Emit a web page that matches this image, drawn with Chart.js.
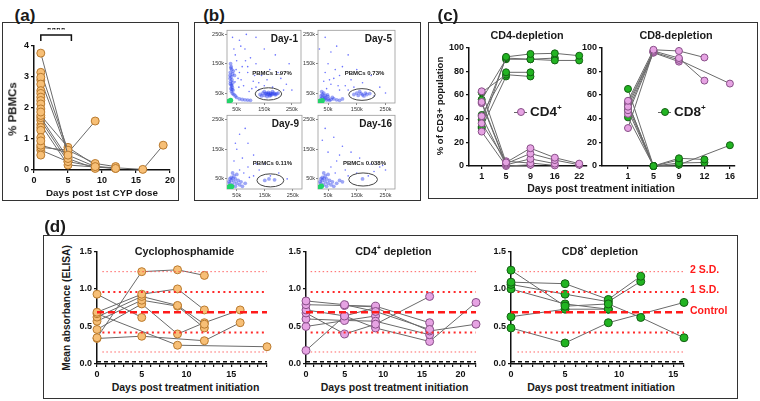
<!DOCTYPE html>
<html>
<head>
<meta charset="utf-8">
<script src="https://cdn.jsdelivr.net/npm/chart.js@4.4.0/dist/chart.umd.min.js"></script>
<style>
  body { margin:0; width:760px; height:401px; background:#fff; position:relative; overflow:hidden;
         font-family:"Liberation Sans", Arial, sans-serif; font-weight:bold; color:#1a1a1a; }
  .box { position:absolute; border:1.5px solid #333; box-sizing:border-box; }
  canvas { position:absolute; }
  .t { position:absolute; white-space:nowrap; line-height:1; }
  sup { font-size:60%; vertical-align:top; position:relative; top:-0.1em; }
</style>
</head>
<body>
<div class="box" style="left:2px;top:22px;width:177px;height:179px"></div>
<div class="box" style="left:194px;top:22px;width:227px;height:179px"></div>
<div class="box" style="left:428px;top:22px;width:330px;height:177px"></div>
<div class="box" style="left:43px;top:235px;width:695px;height:164px"></div>
<script>
// ---------- (a) % PBMCs after CYP ----------
const aLinked = [
  [[1,3.77],[5,0.48],[9,0.11],[12,0.05]],
  [[1,3.15],[5,0.64],[9,0.21],[12,0.11]],
  [[1,2.9],[5,0.55],[9,1.58]],
  [[1,1.76],[5,0.73],[9,0.16]],
  [[1,1.69],[5,0.37],[9,0.05]],
  [[1,1.6],[5,0.27],[9,0.11],[16,0.02],[19,0.8]],
  [[1,1.47],[5,0.16],[12,0.05]],
  [[1,0.8],[5,0.55]],
  [[1,0.73],[5,0.64]],
  [[1,0.64],[5,0.27]]
];
const aDay1Only = [2.99, 2.77, 2.56, 2.47, 2.35, 2.24, 2.13, 1.97, 1.87, 1.37, 1.28, 1.05, 0.94, 0.48];
const aSig = { from: 1, to: 5.5, label: "****" };

// ---------- (b) flow plots (values in k) ----------
const flowTitles = ["Day-1", "Day-5", "Day-9", "Day-16"];
const flowPct = ["PBMCs 1.97%", "PBMCs 0.73%", "PBMCs 0.11%", "PBMCs 0.038%"];
const flowGates = [[165,47,48,21],[168,45,46,20],[170,45,48,22],[172,48,50,22]];
const flowSparse = [
  [[60,230],[80,200],[45,180],[100,170],[70,140],[120,150],[90,120],[140,110],[55,100],[110,90],[160,95],[200,120],[230,80],[180,70],[75,75],[130,60],[95,55],[250,60],[210,100],[65,210],[35,240],[150,200],[190,180],[240,150],[85,250],[120,240],[50,160],[170,130],[60,120],[105,65],[130,85],[90,140],[220,60],[115,110],[40,200],[48,130],[66,95],[82,160],[150,75],[120,70],[58,70],[44,88]],
  [[40,240],[80,210],[60,190],[120,180],[50,150],[100,140],[150,130],[90,110],[40,120],[70,100],[130,95],[200,110],[60,80],[110,75],[170,85],[230,70],[45,65],[90,60],[250,50],[20,200],[75,130],[140,70],[210,40],[55,95],[35,90],[120,60],[85,75]],
  [[60,200],[90,170],[50,150],[70,120],[110,130],[40,110],[90,90],[130,80],[150,100],[200,70],[60,80],[170,60],[230,50],[110,60],[80,220],[45,170],[120,100],[75,70],[95,55]],
  [[40,220],[70,190],[100,160],[50,140],[130,140],[80,110],[160,120],[200,100],[230,90],[250,80],[110,80],[60,90],[150,70],[190,60],[210,75],[30,180],[90,130],[240,95],[120,60],[75,70]]
];
const flowDense = [
  [[28,150],[30,140],[32,130],[27,120],[35,115],[30,105],[33,95],[28,90],[36,85],[30,78],[34,70],[29,65],[37,60],[31,55],[35,48],[40,45],[45,40],[50,35],[60,30],[70,28],[80,27],[90,26],[100,25],[42,110],[38,125],[26,100],[32,75],[29,135],[26,110],[33,62],[27,82],
   [135,45],[145,50],[150,42],[155,48],[160,45],[165,52],[170,44],[175,48],[180,46],[185,50],[190,44],[195,47],[160,38],[170,40],[150,55],[180,55],[200,50],[140,40],[165,47],[175,43],[158,50],[172,50],[188,47]],
  [[25,30],[30,35],[35,28],[40,32],[45,26],[50,30],[55,25],[60,28],[70,30],[80,27],[90,25],[30,45],[35,50],[28,55],[40,42],[50,38],[65,35],[100,30],[26,40],[38,36],[48,44],
   [140,45],[150,50],[155,42],[165,48],[170,44],[180,50],[185,45],[160,55],[175,40],[195,48]],
  [[20,25],[25,35],[30,45],[35,30],[40,40],[45,25],[50,35],[55,45],[30,55],[40,60],[60,30],[65,40],[70,25],[25,50],[45,50],[35,70],[50,65],[80,35],[22,40],[36,52],
   [150,45],[165,50],[185,47]],
  [[20,25],[25,35],[30,45],[35,30],[40,40],[45,25],[50,35],[55,45],[30,55],[40,60],[60,30],[65,40],[70,25],[25,50],[45,50],[35,70],[50,65],[80,35],[90,45],[100,40],[22,40],[36,52],
   [170,50]]
];
const flowCore = [[[22,22],[28,25]],[[22,22],[30,24]],[[22,22],[27,26],[32,24]],[[22,22],[27,26]]];
const flowTicks = [50, 150, 250];

// ---------- (c) CD3+ composition ----------
const cd4DepDays = ["1","5","9","16","22"];
const cd4Dep_CD4 = [
  [63, 3, 15, 7, 2],
  [54, 2, 10.5, 5, 1],
  [42, 1, 6, 2, null],
  [36, 4, 2.5, 0.5, null],
  [29, 0, 1, null, null],
  [53, 1, null, null, null]
];
const cd4Dep_CD8 = [
  [33, 92, 94.5, 95, 93],
  [39, 91, 90, 89, 89],
  [56, 90, 90, 91, null],
  [43, 79, 79, null, null],
  [62, 77, 75.5, null, null],
  [32, 75.5, null, null, null]
];
const cd8DepDays = ["1","5","9","12","16"];
const cd8Dep_CD4 = [
  [55, 98, 97, 91.5, null],
  [50, 97, 91, 72, null],
  [47, 96, 89.5, null, 69.5],
  [44, 95.5, 88, null, null],
  [32, 97, null, null, null],
  [53, 96, null, null, null]
];
const cd8Dep_CD8 = [
  [41, 0, 6.5, 5.5, null],
  [47, 0, 2.5, 3, null],
  [53, 0, 1, null, 17.5],
  [65, 0, 5, null, null],
  [53, 0, null, null, null],
  [50, 0, null, null, null]
];

// ---------- (d) ELISA ----------
const cycSubjects = [
  [[0,0.93],[5,0.62]],
  [[0,0.35],[5,1.23],[9,1.255],[12,1.18]],
  [[0,0.69],[5,0.93],[9,1.0],[12,0.72]],
  [[0,0.67],[9,0.25],[19,0.23]],
  [[0,0.625],[5,0.90],[9,0.78],[12,0.53]],
  [[0,0.57],[5,0.85],[9,0.77],[12,0.48]],
  [[0,0.46],[5,0.80],[9,0.40],[12,0.55],[16,0.72]],
  [[0,0.34],[5,0.37],[12,0.31],[16,0.55]]
];
const cd4Subjects = [
  [[0,0.84],[5,0.79],[9,0.70],[16,0.46]],
  [[0,0.79],[9,0.77],[16,0.55]],
  [[0,0.72],[5,0.64],[9,0.75],[16,0.44],[22,0.53]],
  [[0,0.68],[5,0.40],[9,0.53],[16,0.90]],
  [[0,0.60],[5,0.58],[9,0.57],[16,0.39]],
  [[0,0.50],[9,0.64]],
  [[0,0.18],[5,0.64],[9,0.48],[16,0.30],[22,0.82]],
  [[5,0.78],[9,0.76]]
];
const cd8Subjects = [
  [[0,1.25],[5,0.77],[9,0.80],[12,0.62],[16,0.35]],
  [[0,1.09],[5,1.07],[9,0.86],[12,1.17]],
  [[0,1.06],[5,0.93],[9,0.83],[12,1.10]],
  [[0,1.0],[5,0.80],[9,0.73]],
  [[0,0.63],[5,0.73],[9,0.73]],
  [[0,0.48],[5,0.28],[9,0.55],[16,0.82]]
];
const refLevels = [1.23, 0.96, 0.69, 0.42, 0.16, 0.03];
const refNames = ["2 S.D.", "1 S.D.", "Control"];

// ---------- helpers ----------
const FONT = '"Liberation Sans", Arial, sans-serif';
const INK = "#111";
const ORANGE = ["#F7BF76", "#B97A2E"], PINK = ["#E6A3E3", "#874E87"], GREEN = ["#22B422", "#136013"];
const refStyle = [
  { c: "rgba(255,70,70,0.85)", w: 1, d: [1.5, 2.5], s: 0.6 },
  { c: "#ff2a2a", w: 2, d: [2, 3.5], s: 0.6 },
  { c: "#ff1a1a", w: 2.5, d: [7, 4], s: 0 },
  { c: "#ff2a2a", w: 2, d: [2, 3.5], s: 0.6 },
  { c: "rgba(255,70,70,0.85)", w: 1, d: [1.5, 2.5], s: 0.6 },
  { c: "#111", w: 1.6, d: [4, 3], s: 0 }
];

function txt(html, x, y, size, o = {}) {
  const d = document.createElement("div");
  d.className = "t";
  d.innerHTML = html;
  d.style.left = x + "px";
  d.style.top = y + "px";
  d.style.fontSize = size + "px";
  if (o.color) d.style.color = o.color;
  let tr = o.align === "left" ? "translate(0,-50%)" : o.align === "right" ? "translate(-100%,-50%)" : "translate(-50%,-50%)";
  if (o.rot) tr += " rotate(-90deg)";
  d.style.transform = tr;
  document.body.appendChild(d);
  return d;
}

function axis(extra) {
  return Object.assign({
    type: "linear",
    border: { color: INK, width: 1.5 },
    grid: { drawOnChartArea: false, color: INK, tickLength: 3, lineWidth: 1.2 },
    ticks: { font: { family: FONT, size: 9, weight: "bold" }, color: INK, padding: 2, maxRotation: 0, autoSkip: false }
  }, extra);
}

function build(box, area, datasets, xs, ys, plugins) {
  const [L, T, W, H] = box, [x0, y0, x1, y1] = area;
  const c = document.createElement("canvas");
  c.width = W; c.height = H;
  c.style.left = L + "px"; c.style.top = T + "px";
  document.body.appendChild(c);
  xs.afterFit = s => { s.height = T + H - y1; };
  ys.afterFit = s => { s.width = x0 - L; };
  return new Chart(c, {
    type: "scatter",
    data: { datasets },
    options: {
      responsive: false, animation: false, events: [],
      layout: { padding: { top: y0 - T, right: L + W - x1, left: 0, bottom: 0 } },
      plugins: { legend: { display: false }, tooltip: { enabled: false } },
      scales: { x: xs, y: ys }
    },
    plugins: plugins || []
  });
}

function subjLine(pts, col, r) {
  return {
    data: pts.map(p => ({ x: p[0], y: p[1] })), showLine: true,
    borderColor: "#6a6a6a", borderWidth: 1,
    pointRadius: r, pointBackgroundColor: col[0], pointBorderColor: col[1], pointBorderWidth: 1, clip: false
  };
}

// ---------- panel (a) ----------
txt("(a)", 25, 15, 17);
const sigPlugin = {
  id: "sig",
  afterDraw(ch) {
    const g = ch.ctx, xs = ch.scales.x, top = ch.chartArea.top;
    const a = xs.getPixelForValue(aSig.from), b = xs.getPixelForValue(aSig.to);
    g.save(); g.strokeStyle = INK; g.lineWidth = 1.5;
    g.beginPath(); g.moveTo(a, top - 5); g.lineTo(a, top - 11); g.lineTo(b, top - 11); g.lineTo(b, top - 5); g.stroke();
    g.fillStyle = INK; g.font = "bold 12px " + FONT; g.textAlign = "center";
    g.fillText(aSig.label, (a + b) / 2, top - 12);
    g.restore();
  }
};
const aSets = aLinked.map(s => subjLine(s, ORANGE, 4));
aSets.unshift({
  data: aDay1Only.map(v => ({ x: 1, y: v })), pointRadius: 4,
  pointBackgroundColor: ORANGE[0], pointBorderColor: ORANGE[1], pointBorderWidth: 1, clip: false
});
build([3, 28, 174, 160], [34, 46, 170, 170], aSets,
  axis({ min: 0, max: 20, ticks: Object.assign(axis().ticks, { stepSize: 5 }) }),
  axis({ min: 0, max: 4, ticks: Object.assign(axis().ticks, { stepSize: 1 }) }),
  [sigPlugin]);
txt("% PBMCs", 13, 109, 11.5, { rot: true });
txt("Days post 1st CYP dose", 102, 193, 9.8);

// ---------- panel (b) ----------
txt("(b)", 214, 15, 17);
const flowBoxes = [
  [[205, 26, 100, 85], [227, 30, 301, 103]],
  [[296, 26, 103, 85], [318, 30, 395, 103]],
  [[205, 111, 101, 86], [227, 115, 302, 189]],
  [[296, 111, 103, 86], [318, 115, 395, 189]]
];
flowBoxes.forEach((fb, i) => {
  const gate = flowGates[i];
  const gatePlugin = {
    id: "gate" + i,
    beforeDatasetsDraw(ch) {
      const g = ch.ctx, a = ch.chartArea;
      g.save(); g.strokeStyle = "#999"; g.lineWidth = 0.8;
      g.strokeRect(a.left, a.top, a.right - a.left, a.bottom - a.top); g.restore();
    },
    afterDraw(ch) {
      const g = ch.ctx, xs = ch.scales.x, ys = ch.scales.y;
      const cx = xs.getPixelForValue(gate[0]), cy = ys.getPixelForValue(gate[1]);
      const rx = Math.abs(xs.getPixelForValue(gate[0] + gate[2]) - cx);
      const ry = Math.abs(ys.getPixelForValue(gate[1] + gate[3]) - cy);
      g.save(); g.strokeStyle = "#444"; g.lineWidth = 1;
      g.beginPath(); g.ellipse(cx, cy, rx, ry, 0, 0, Math.PI * 2); g.stroke(); g.restore();
    }
  };
  const flowAxis = (min, max) => ({
    type: "linear", min, max,
    border: { display: false },
    grid: { drawOnChartArea: false, color: "#666", tickLength: 2, lineWidth: 0.8 },
    ticks: { font: { family: FONT, size: 5.5 }, color: "#333", padding: 1, maxRotation: 0, autoSkip: false, callback: v => v + "k" },
    afterBuildTicks: s => { s.ticks = flowTicks.map(v => ({ value: v })); }
  });
  build(fb[0], fb[1], [
    { data: flowCore[i].map(p => ({ x: p[0], y: p[1] })), pointRadius: 2.6, pointBackgroundColor: "#23d46a", pointBorderWidth: 0, order: 0 },
    { data: flowDense[i].map(p => ({ x: p[0], y: p[1] })), pointRadius: 1.9, pointBackgroundColor: "rgba(40,60,235,0.45)", pointBorderWidth: 0, order: 1 },
    { data: flowSparse[i].map(p => ({ x: p[0], y: p[1] })), pointRadius: 0.8, pointBackgroundColor: "rgba(70,80,255,0.8)", pointBorderWidth: 0, order: 2 }
  ], flowAxis(15, 283), flowAxis(16, 264), [gatePlugin]);
  const a = fb[1];
  txt(flowTitles[i], a[2] - 3, a[1] + 9, 10, { align: "right" });
  txt(flowPct[i], (a[0] + a[2]) / 2 + 8, i < 2 ? a[1] + 43 : a[1] + 48, 6);
});

// ---------- panel (c) ----------
txt("(c)", 448, 15, 17);
function compSets(cd4, cd8) {
  const mk = (rows, col) => rows.map(r => subjLine(
    r.map((v, j) => [j, v]).filter(p => p[1] !== null), col, 3.5));
  return mk(cd4, PINK).concat(mk(cd8, GREEN));
}
function catAxis(labels, min, max) {
  return axis({
    min, max,
    ticks: Object.assign(axis().ticks, { callback: v => labels[v] }),
    afterBuildTicks: s => { s.ticks = labels.map((l, j) => ({ value: j })); }
  });
}
const pctAxis = () => axis({ min: 0, max: 100, ticks: Object.assign(axis().ticks, { stepSize: 20 }) });
build([430, 40, 162, 141], [469, 46, 590, 166], compSets(cd4Dep_CD4, cd4Dep_CD8),
  catAxis(cd4DepDays, -0.52, 4.32), pctAxis());
build([578, 40, 162, 141], [602, 46, 735, 166], compSets(cd8Dep_CD4, cd8Dep_CD8),
  catAxis(cd8DepDays, -1.02, 4.2), pctAxis());
txt("CD4-depletion", 527, 35, 10.8);
txt("CD8-depletion", 676, 35, 10.8);
txt("% of CD3+ population", 440, 106, 9.5, { rot: true });
txt("Days post treatment initiation", 601, 188, 10.5);

function legendItem(x, y, col, html) {
  const l = document.createElement("div");
  l.style.cssText = `position:absolute;left:${x}px;top:${y - 0.5}px;width:13px;height:1px;background:#666`;
  document.body.appendChild(l);
  const c = document.createElement("div");
  c.style.cssText = `position:absolute;left:${x + 2.5}px;top:${y - 4}px;width:6px;height:6px;border-radius:50%;background:${col[0]};border:1px solid ${col[1]}`;
  document.body.appendChild(c);
  txt(html, x + 16, y, 13.5, { align: "left" });
}
legendItem(514, 112, PINK, "CD4<sup>+</sup>");
legendItem(658, 112, GREEN, "CD8<sup>+</sup>");

// ---------- panel (d) ----------
txt("(d)", 55, 226, 17);
function elisaSets(subjects, col, xmax) {
  const refs = refLevels.map((v, k) => ({
    data: [{ x: refStyle[k].s, y: v }, { x: xmax, y: v }], showLine: true, pointRadius: 0,
    borderColor: refStyle[k].c, borderWidth: refStyle[k].w, borderDash: refStyle[k].d, clip: false
  }));
  return refs.concat(subjects.map(s => subjLine(s, col, 4)));
}
function dayAxis(max) {
  return axis({
    min: 0, max,
    ticks: Object.assign(axis().ticks, { stepSize: 1, callback: v => (v % 5 === 0 ? v : "") })
  });
}
const absAxis = () => axis({ min: 0, max: 1.5, ticks: Object.assign(axis().ticks, { stepSize: 0.5, callback: v => v.toFixed(1) }) });
const elisaPanels = [
  { box: [72, 244, 200, 134], area: [97, 250, 268, 364], subj: cycSubjects, col: ORANGE, xmax: 19, title: "Cyclophosphamide" },
  { box: [281, 244, 200, 134], area: [306, 250, 477, 364], subj: cd4Subjects, col: PINK, xmax: 22, title: "CD4<sup>+</sup> depletion" },
  { box: [486, 244, 203, 134], area: [511, 250, 685, 364], subj: cd8Subjects, col: GREEN, xmax: 16, title: "CD8<sup>+</sup> depletion" }
];
elisaPanels.forEach(p => {
  build(p.box, p.area, elisaSets(p.subj, p.col, p.xmax), dayAxis(p.xmax), absAxis());
  const cx = (p.area[0] + p.area[2]) / 2 + 2;
  txt(p.title, cx, 251, 10.8);
  txt("Days post treatment initiation", cx + 1, 387, 10.5);
});
txt("Mean absorbance (ELISA)", 67, 308, 10.2, { rot: true });
refNames.forEach((n, k) => txt(n, 690, 364 - refLevels[k] * 76 - 2, 10.5, { align: "left", color: "#ff1a1a" }));
</script>
</body>
</html>
